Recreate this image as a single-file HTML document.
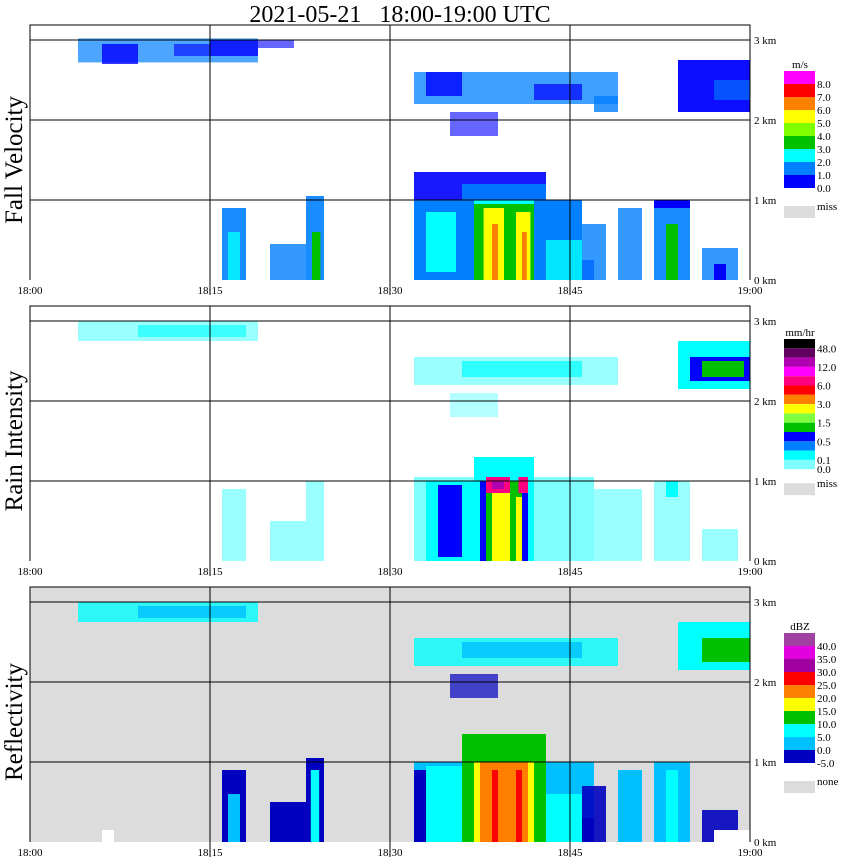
<!DOCTYPE html>
<html><head><meta charset="utf-8">
<style>
body{margin:0;background:#fff;}
svg{display:block;font-family:"Liberation Serif",serif;}
</style></head>
<body>
<svg id="chart" width="850" height="868" viewBox="0 0 850 868" xmlns="http://www.w3.org/2000/svg">
<text x="400" y="22" font-size="24" text-anchor="middle" xml:space="preserve" style="white-space:pre">2021-05-21   18:00-19:00 UTC</text>
<g id="panels"></g>
</svg>
<script>
// time ticks (minutes after 18:00) and labels
const tickMinutes = [0, 15, 30, 45, 60];
const tickLabels = ["18:00", "18:15", "18:30", "18:45", "19:00"];
const heightTicks = [0, 1, 2, 3];
const heightLabels = ["0 km", "1 km", "2 km", "3 km"];
const panelTitles = ["Fall Velocity", "Rain Intensity", "Reflectivity"];
const legendUnits = ["m/s", "mm/hr", "dBZ"];
const legendColors1 = ["#ff00ff","#ff0000","#ff8000","#ffff00","#80ff00","#00c000","#00ffff","#0080ff","#0000ff"];
const legendLabels1 = ["8.0","7.0","6.0","5.0","4.0","3.0","2.0","1.0","0.0"];
const legendColors2 = ["#000000","#600060","#b000b0","#ff00ff","#ff0080","#ff0000","#ff8000","#ffff00","#80ff40","#00c000","#0000ff","#0080ff","#00ffff","#80ffff"];
const legendLabels2 = ["48.0","","12.0","","6.0","","3.0","","1.5","","0.5","","0.1","0.0"];
const legendColors3 = ["#a040a0","#e000e0","#a000a0","#ff0000","#ff8000","#ffff00","#00c000","#00ffff","#00c0ff","#0000c0"];
const legendLabels3 = ["","40.0","35.0","30.0","25.0","20.0","15.0","10.0","5.0","0.0","-5.0"];
// echo regions per panel: [startMin, endMin, bottomKm, topKm, colour, opacity]
const echoes1 = [
 [4,19,2.72,3.02,"#0080ff",0.7],[6,9,2.7,2.95,"#0000ff",0.8],[12,15,2.8,2.95,"#0000ff",0.6],[15,19,2.8,3.0,"#0000ff",0.8],[19,22,2.9,3.0,"#0000ff",0.6],
 [32,49,2.2,2.6,"#0080ff",0.75],[33,36,2.3,2.6,"#0000ff",0.8],[42,46,2.25,2.45,"#0000ff",0.7],[47,49,2.1,2.3,"#0080ff",0.8],
 [35,39,1.8,2.1,"#0000ff",0.6],
 [54,60,2.1,2.75,"#0000ff",0.95],[57,60,2.25,2.5,"#0080ff",0.6],
 [32,43,1.0,1.35,"#0000ff",0.9],[36,43,1.0,1.2,"#0080ff",0.9],
 [32,46,0,1.0,"#0080ff",1],[33,35.5,0.1,0.85,"#00ffff",1],[37,42,0,1.0,"#00ffff",1],
 [37,42,0,0.95,"#00c000",1],[37.8,39.5,0,0.9,"#ffff00",1],[40.5,41.7,0,0.85,"#ffff00",1],
 [38.5,39,0,0.7,"#ff8000",1],[41,41.4,0,0.6,"#ff8000",1],[43,46,0,0.5,"#00ffff",0.8],[46,47,0,0.25,"#0000ff",0.8],
 [16,18,0,0.9,"#0080ff",0.9],[16.5,17.5,0,0.6,"#00ffff",0.8],[20,23,0,0.45,"#0080ff",0.8],[23,24.5,0,1.05,"#0080ff",0.9],[23.5,24.2,0,0.6,"#00c000",1],
 [46,48,0,0.7,"#0080ff",0.8],[49,51,0,0.9,"#0080ff",0.8],[52,55,0,1.0,"#0080ff",0.9],[53,54,0,0.7,"#00c000",1],[52,55,0.9,1.0,"#0000ff",1],[56,59,0,0.4,"#0080ff",0.8],[57,58,0,0.2,"#0000ff",1]
];
const echoes2 = [
 [4,19,2.75,3.0,"#80ffff",0.8],[9,18,2.8,2.95,"#00ffff",0.6],
 [32,49,2.2,2.55,"#80ffff",0.8],[36,46,2.3,2.5,"#00ffff",0.7],[35,39,1.8,2.1,"#80ffff",0.6],
 [54,60,2.15,2.75,"#00ffff",1],[55,60,2.25,2.55,"#0000ff",1],[56,59.5,2.3,2.5,"#00c000",1],
 [32,47,0,1.05,"#80ffff",1],[33,37,0,1.0,"#00ffff",1],[34,36,0.05,0.95,"#0000ff",1],
 [37,42,0,1.3,"#00ffff",1],[37.5,41.5,0,1.0,"#0000ff",1],[38,41,0,1.0,"#00c000",1],[38.5,40,0,0.9,"#ffff00",1],[40.5,41,0,0.8,"#ffff00",1],
 [38,40,0.85,1.05,"#ff0080",1],[38.5,39.5,0.9,1.0,"#b000b0",1],[40.7,41.5,0.85,1.05,"#ff0080",1],
 [16,18,0,0.9,"#80ffff",0.8],[20,23,0,0.5,"#80ffff",0.8],[23,24.5,0,1.0,"#80ffff",0.8],
 [46,51,0,0.9,"#80ffff",0.8],[52,55,0,1.0,"#80ffff",0.8],[53,54,0.8,1.0,"#00ffff",1],[56,59,0,0.4,"#80ffff",0.8]
];
const echoes3 = [
 [4,19,2.75,3.0,"#00ffff",0.8],[9,18,2.8,2.95,"#00c0ff",0.8],
 [32,49,2.2,2.55,"#00ffff",0.8],[36,46,2.3,2.5,"#00c0ff",0.8],[35,39,1.8,2.1,"#0000c0",0.7],
 [54,60,2.15,2.75,"#00ffff",1],[56,60,2.25,2.55,"#00c000",1],
 [32,47,0,1.0,"#00c0ff",1],[33,36,0,0.95,"#00ffff",1],[32,33,0,0.9,"#0000c0",1],
 [36,43,0,1.35,"#00c000",1],[37,42,0,1.0,"#ffff00",1],[37.5,41.5,0,1.0,"#ff8000",1],[38.5,39,0,0.9,"#ff0000",1],[40.5,41,0,0.9,"#ff0000",1],
 [43,46,0,0.6,"#00ffff",1],[46,47,0,0.3,"#0000c0",1],
 [16,18,0,0.9,"#0000c0",1],[16.5,17.5,0,0.6,"#00c0ff",1],[20,23,0,0.5,"#0000c0",1],[23,24.5,0,1.05,"#0000c0",1],[23.4,24.1,0,0.9,"#00ffff",1],
 [46,48,0,0.7,"#0000c0",0.9],[49,51,0,0.9,"#00c0ff",1],[52,55,0,1.0,"#00c0ff",1],[53,54,0,0.9,"#00ffff",1],[56,59,0,0.4,"#0000c0",0.9],
 [6,7,0,0.15,"#ffffff",1],[57,60,0,0.15,"#ffffff",1]
];
const NS="http://www.w3.org/2000/svg";
const panelTops=[25,306,587];
const X0=30, X1=750;
function xScale(m){return X0+m*(X1-X0)/60;}
function yScale(p,km){return panelTops[p]+255-km*80;}
function mk(tag,attrs,parent){const e=document.createElementNS(NS,tag);for(const k in attrs)e.setAttribute(k,attrs[k]);parent.appendChild(e);return e;}
const root=document.getElementById('panels');
const allEchoes=[echoes1,echoes2,echoes3];
const legC=[legendColors1,legendColors2,legendColors3];
const legL=[legendLabels1,legendLabels2,legendLabels3];
for(let p=0;p<3;p++){
  const g=mk('g',{},root);
  
  
  const top=panelTops[p];
  if(p===2){const bg=mk('rect',{x:X0,y:top,width:X1-X0,height:255,fill:'#dcdcdc'},g);
    }
  allEchoes[p].forEach((e,i)=>{
    const r=mk('rect',{x:xScale(e[0]),y:yScale(p,e[3]),width:xScale(e[1])-xScale(e[0]),height:yScale(p,e[2])-yScale(p,e[3]),fill:e[4],'fill-opacity':e[5]},g);
    
    
  });
  heightTicks.forEach((h,i)=>{
    if(h>0){const l=mk('line',{x1:X0,x2:X1,y1:yScale(p,h),y2:yScale(p,h),stroke:'#000','stroke-width':1},g);
      }
    const t=mk('text',{x:X1+4,y:yScale(p,h)+4,'font-size':11},g);t.textContent=heightLabels[i];
    
  });
  tickMinutes.forEach((m,i)=>{
    if(m>0&&m<60){const l=mk('line',{x1:xScale(m),x2:xScale(m),y1:top,y2:top+270,stroke:'#000'},g);
      }
    const t=mk('text',{x:xScale(m),y:top+269,'font-size':11,'text-anchor':'middle'},g);t.textContent=tickLabels[i];
    
  });
  const b=mk('path',{d:`M${X0},${top+255}V${top}H${X1}V${top+255}`,fill:'none',stroke:'#000'},g);
  
  const tt=mk('text',{x:0,y:0,'font-size':25,'text-anchor':'middle',transform:`translate(22,${top+135}) rotate(-90)`},g);
  tt.textContent=panelTitles[p];
  
  const lg=mk('g',{},g);
  
  const n=legC[p].length, boxH=p===1?9.3:13, ly=top+(p===1?33:46);
  const u=mk('text',{x:800,y:ly-3,'font-size':11,'text-anchor':'middle'},lg);u.textContent=legendUnits[p];
  
  legC[p].forEach((c,i)=>{
    const r=mk('rect',{x:784,y:ly+i*boxH,width:31,height:boxH,fill:c},lg);
    
  });
  legL[p].forEach((s,i)=>{
    const t=mk('text',{x:817,y:ly+(i+1)*boxH+(p===2?-boxH+4:4),'font-size':11},lg);t.textContent=s;
    
  });
  const my=ly+n*boxH+(p===1?14:18);
  const mr=mk('rect',{x:784,y:my,width:31,height:12,fill:'#dcdcdc'},lg);
  
  const mt=mk('text',{x:817,y:my+4,'font-size':11},lg);mt.textContent=p===2?'none':'miss';
  
}
</script>
</body></html>
